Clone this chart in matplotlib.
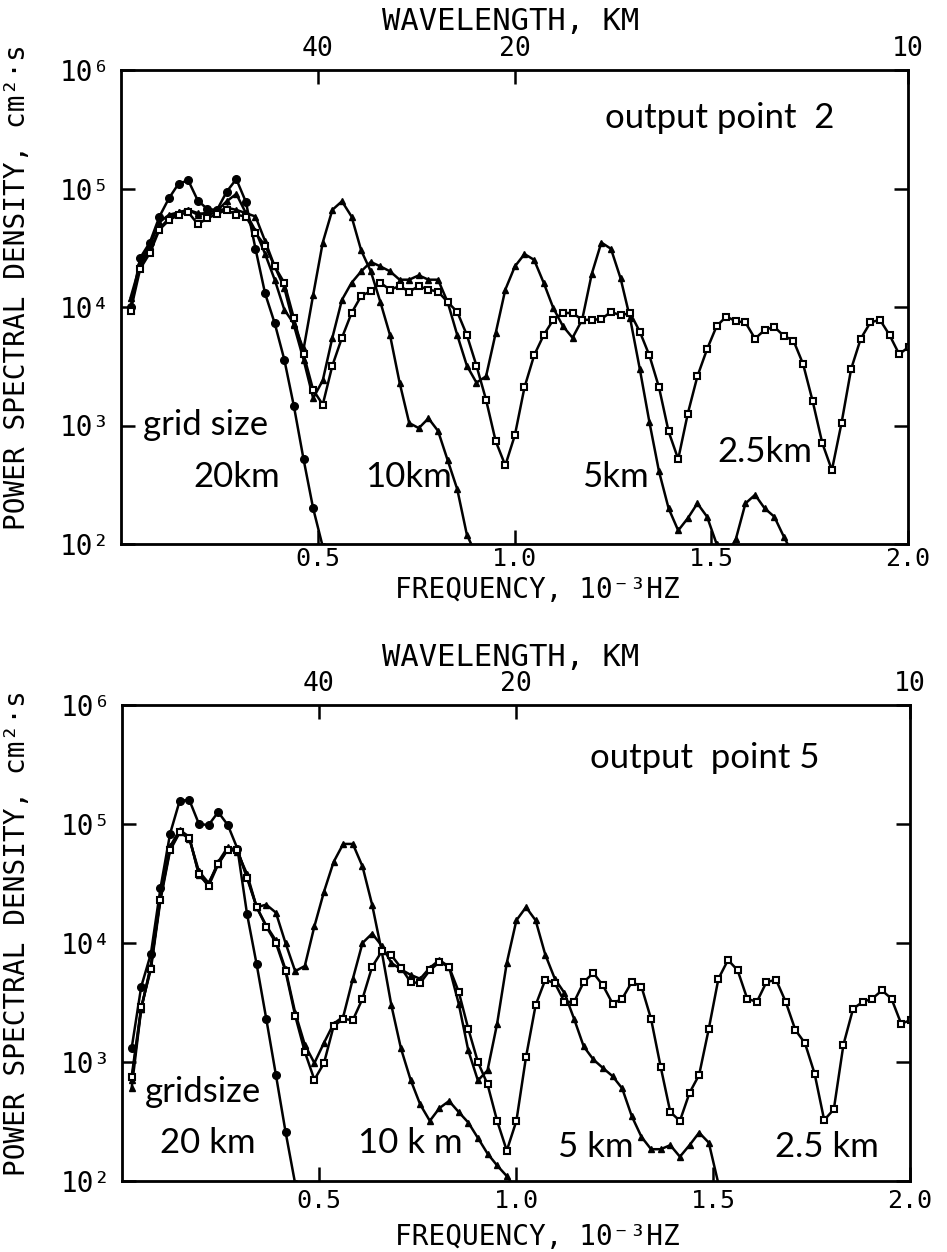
import matplotlib
matplotlib.use("Agg")
import matplotlib.pyplot as plt
from matplotlib.ticker import NullLocator

# frequency bins, 10^-3 Hz
freq = [0.0244, 0.0488, 0.0732, 0.0977, 0.1221, 0.1465, 0.1709, 0.1953, 0.2197, 0.2441,
        0.2686, 0.2930, 0.3174, 0.3418, 0.3662, 0.3906, 0.4150, 0.4395, 0.4639, 0.4883,
        0.5127, 0.5371, 0.5615, 0.5859, 0.6104, 0.6348, 0.6592, 0.6836, 0.7080, 0.7324,
        0.7568, 0.7813, 0.8057, 0.8301, 0.8545, 0.8789, 0.9033, 0.9277, 0.9521, 0.9766,
        1.0010, 1.0254, 1.0498, 1.0742, 1.0986, 1.1230, 1.1475, 1.1719, 1.1963, 1.2207,
        1.2451, 1.2695, 1.2939, 1.3184, 1.3428, 1.3672, 1.3916, 1.4160, 1.4404, 1.4648,
        1.4893, 1.5137, 1.5381, 1.5625, 1.5869, 1.6113, 1.6357, 1.6602, 1.6846, 1.7090,
        1.7334, 1.7578, 1.7822, 1.8066, 1.8311, 1.8555, 1.8799, 1.9043, 1.9287, 1.9531,
        1.9775, 2.0020]

# output point 2
p2_20km = [1.0e4, 2.6e4, 3.5e4, 5.8e4, 8.3e4, 1.1e5, 1.17e5, 7.9e4, 6.7e4, 6.6e4,
           9.4e4, 1.2e5, 7.7e4, 3.1e4, 1.3e4, 7.3e3, 3.6e3, 1.45e3, 5.2e2, 2.0e2, 9.5e1]
p2_10km = [9.5e3, 2.4e4, 3.3e4, 5.2e4, 6.0e4, 6.3e4, 6.6e4, 6.0e4, 6.3e4, 6.5e4,
           7.8e4, 9.0e4, 6.2e4, 4.4e4, 2.8e4, 1.7e4, 9.5e3, 7.2e3, 4.4e3, 1.26e4,
           3.5e4, 6.6e4, 7.8e4, 5.8e4, 3.0e4, 2.0e4, 1.1e4, 5.8e3, 2.3e3, 1.05e3,
           9.5e2, 1.15e3, 9.0e2, 5.1e2, 2.9e2, 1.2e2, 8.0e1]
p2_5km = [1.2e4, 2.3e4, 3.0e4, 4.6e4, 5.6e4, 6.3e4, 6.6e4, 6.2e4, 6.0e4, 6.3e4,
          6.9e4, 6.6e4, 6.2e4, 5.8e4, 3.6e4, 2.2e4, 1.45e4, 7.0e3, 3.6e3, 1.7e3,
          2.4e3, 5.5e3, 1.15e4, 1.6e4, 2.0e4, 2.4e4, 2.2e4, 2.0e4, 1.7e4, 1.7e4,
          1.85e4, 1.7e4, 1.7e4, 1.1e4, 5.8e3, 3.2e3, 2.3e3, 2.6e3, 6.0e3, 1.4e4,
          2.2e4, 2.8e4, 2.5e4, 1.6e4, 9.8e3, 6.9e3, 5.5e3, 7.8e3, 1.9e4, 3.5e4,
          3.1e4, 1.75e4, 8.0e3, 3.0e3, 1.07e3, 4.1e2, 2.0e2, 1.3e2, 1.65e2, 2.2e2,
          1.7e2, 1.0e2, 8.0e1, 1.1e2, 2.2e2, 2.6e2, 2.0e2, 1.7e2, 1.15e2, 8.0e1]
p2_2p5km = [9.3e3, 2.1e4, 2.85e4, 4.5e4, 5.4e4, 6.0e4, 6.3e4, 5.0e4, 5.6e4, 6.1e4,
            6.6e4, 6.0e4, 5.8e4, 4.2e4, 3.3e4, 2.2e4, 1.6e4, 8.0e3, 4.0e3, 2.0e3,
            1.5e3, 3.2e3, 5.5e3, 8.9e3, 1.24e4, 1.36e4, 1.6e4, 1.4e4, 1.5e4, 1.35e4,
            1.5e4, 1.4e4, 1.35e4, 1.1e4, 9.1e3, 5.8e3, 3.2e3, 1.65e3, 7.4e2, 4.6e2,
            8.3e2, 2.1e3, 3.9e3, 5.8e3, 7.8e3, 8.9e3, 8.9e3, 7.8e3, 7.8e3, 7.9e3,
            9.1e3, 8.5e3, 8.9e3, 6.2e3, 3.9e3, 2.1e3, 8.9e2, 5.2e2, 1.26e3, 2.6e3,
            4.4e3, 6.9e3, 8.3e3, 7.6e3, 7.4e3, 5.4e3, 6.4e3, 6.8e3, 5.7e3, 5.2e3,
            3.3e3, 1.6e3, 7.1e2, 4.2e2, 1.05e3, 3.0e3, 5.4e3, 7.4e3, 7.8e3, 5.8e3,
            4.0e3, 4.6e3]

# output point 5
p5_20km = [1.3e3, 4.3e3, 8.1e3, 2.9e4, 8.3e4, 1.57e5, 1.59e5, 1.0e5, 9.8e4, 1.26e5,
           9.8e4, 6.2e4, 1.75e4, 6.6e3, 2.3e3, 7.8e2, 2.6e2, 9.5e1]
p5_10km = [6.0e2, 2.8e3, 6.5e3, 2.4e4, 6.2e4, 8.6e4, 7.5e4, 4.0e4, 3.2e4, 4.6e4,
           6.2e4, 5.8e4, 3.8e4, 2.0e4, 2.1e4, 1.8e4, 1.0e4, 5.8e3, 6.4e3, 1.38e4,
           2.7e4, 4.8e4, 6.8e4, 6.8e4, 4.4e4, 2.1e4, 8.5e3, 3.0e3, 1.3e3, 7.1e2,
           4.4e2, 3.2e2, 4.1e2, 4.7e2, 3.8e2, 3.1e2, 2.3e2, 1.7e2, 1.35e2, 1.1e2, 8.5e1]
p5_5km = [7.0e2, 2.8e3, 6.3e3, 2.45e4, 6.5e4, 8.9e4, 7.8e4, 3.7e4, 3.1e4, 4.8e4,
          6.4e4, 6.0e4, 3.6e4, 2.0e4, 1.4e4, 1.05e4, 6.0e3, 2.6e3, 1.4e3, 9.8e2,
          1.45e3, 2.1e3, 2.4e3, 5.0e3, 1.0e4, 1.2e4, 9.5e3, 6.8e3, 6.0e3, 5.4e3,
          5.0e3, 6.2e3, 7.2e3, 6.3e3, 3.1e3, 1.25e3, 7.0e2, 8.5e2, 2.1e3, 6.8e3,
          1.55e4, 2.0e4, 1.55e4, 8.0e3, 5.0e3, 3.8e3, 2.3e3, 1.35e3, 1.05e3, 8.9e2,
          7.6e2, 6.0e2, 3.5e2, 2.35e2, 1.85e2, 1.85e2, 2.0e2, 1.6e2, 2.0e2, 2.55e2,
          2.1e2, 9.5e1, 7.0e1]
p5_2p5km = [7.5e2, 2.9e3, 6.0e3, 2.3e4, 6.0e4, 8.5e4, 7.6e4, 3.8e4, 3.0e4, 4.6e4,
            6.1e4, 6.1e4, 3.5e4, 2.0e4, 1.37e4, 1.0e4, 5.8e3, 2.45e3, 1.22e3, 7.1e2,
            9.8e2, 2.0e3, 2.3e3, 2.25e3, 3.4e3, 6.3e3, 8.5e3, 7.9e3, 6.2e3, 4.7e3,
            4.6e3, 5.9e3, 6.9e3, 6.3e3, 3.9e3, 1.9e3, 1.0e3, 6.5e2, 3.2e2, 1.8e2,
            3.2e2, 1.1e3, 3.0e3, 4.9e3, 4.6e3, 3.2e3, 3.2e3, 4.7e3, 5.6e3, 4.4e3,
            3.1e3, 3.4e3, 4.7e3, 4.3e3, 2.3e3, 9.1e2, 3.8e2, 3.2e2, 5.5e2, 7.8e2,
            1.9e3, 5.0e3, 7.2e3, 5.9e3, 3.4e3, 3.2e3, 4.7e3, 4.9e3, 3.2e3, 1.86e3,
            1.44e3, 8.0e2, 3.25e2, 4.0e2, 1.4e3, 2.8e3, 3.2e3, 3.4e3, 4.0e3, 3.4e3,
            2.1e3, 2.25e3]

ytick_vals = [1e2, 1e3, 1e4, 1e5, 1e6]
ytick_labels = ["10²", "10³", "10⁴", "10⁵", "10⁶"]
xtick_vals = [0.5, 1.0, 1.5, 2.0]
xtick_labels = ["0.5", "1.0", "1.5", "2.0"]
wl_pos = [0.5, 1.0, 2.0]
wl_labels = ["40", "20", "10"]

MONO = "DejaVu Sans Mono"
ANN = "Lato"
W, H = 947, 1252

fig = plt.figure(figsize=(W / 100, H / 100), dpi=100)


def px(x, y):
    return x / W, 1 - y / H


def panel(rect, s20, s10, s5, s25, xpad):
    ax = fig.add_axes(rect)
    kw = dict(color="black", lw=1.8, clip_on=True)
    ax.plot(freq[:len(s20)], s20, marker="o", ms=5.5, **kw)
    ax.plot(freq[:len(s10)], s10, marker="^", ms=4, **kw)
    ax.plot(freq[:len(s5)], s5, marker="^", ms=4, **kw)
    ax.plot(freq[:len(s25)], s25, marker="s", ms=5, mfc="white", mew=1.5, **kw)
    ax.set_yscale("log")
    ax.set_xlim(0, 2.0)
    ax.set_ylim(1e2, 1e6)
    ax.set_yticks(ytick_vals)
    ax.set_yticklabels(ytick_labels, family=MONO, fontsize=20)
    ax.yaxis.set_minor_locator(NullLocator())
    ax.set_xticks(xtick_vals)
    ax.set_xticklabels(xtick_labels, family=MONO, fontsize=18)
    ax.tick_params(direction="in", length=10, width=1.8, right=True, pad=8)
    ax.tick_params(axis="x", pad=xpad)
    for sp in ax.spines.values():
        sp.set_linewidth(2)
    top = ax.twiny()
    top.set_xlim(0, 2.0)
    top.set_xticks(wl_pos)
    top.set_xticklabels(wl_labels, family=MONO, fontsize=19)
    top.tick_params(direction="in", length=10, width=1.8, pad=6)
    return ax


panel([121 / W, 1 - 544 / H, 787 / W, 474 / H], p2_20km, p2_10km, p2_5km, p2_2p5km, 2)
panel([122 / W, 1 - 1181 / H, 788 / W, 476 / H], p5_20km, p5_10km, p5_5km, p5_2p5km, 6)

# axis titles
for yt, yb, ylab in [(21, 598, 287), (658, 1245, 933)]:
    fig.text(*px(511, yt), "WAVELENGTH, KM", family=MONO, fontsize=22, ha="center", va="center")
    fig.text(*px(537, yb), "FREQUENCY, 10⁻³HZ", family=MONO, fontsize=20, ha="center",
             va="baseline")
    fig.text(*px(17, ylab), "POWER SPECTRAL DENSITY, cm²·s", family=MONO, fontsize=20,
             rotation=90, ha="center", va="center")

# annotations
notes = [("output point  2", 605, 128), ("grid size", 143, 435), ("20km", 193, 487),
         ("10km", 365, 487), ("5km", 582, 487), ("2.5km", 717, 462),
         ("output  point 5", 590, 768), ("gridsize", 145, 1102), ("20 km", 160, 1153),
         ("10 k m", 358, 1153), ("5 km", 558, 1157), ("2.5 km", 775, 1157)]
for txt, x, y in notes:
    fig.text(*px(x, y), txt, family=ANN, fontsize=25, ha="left", va="baseline")

fig.savefig("out.png", dpi=100)
